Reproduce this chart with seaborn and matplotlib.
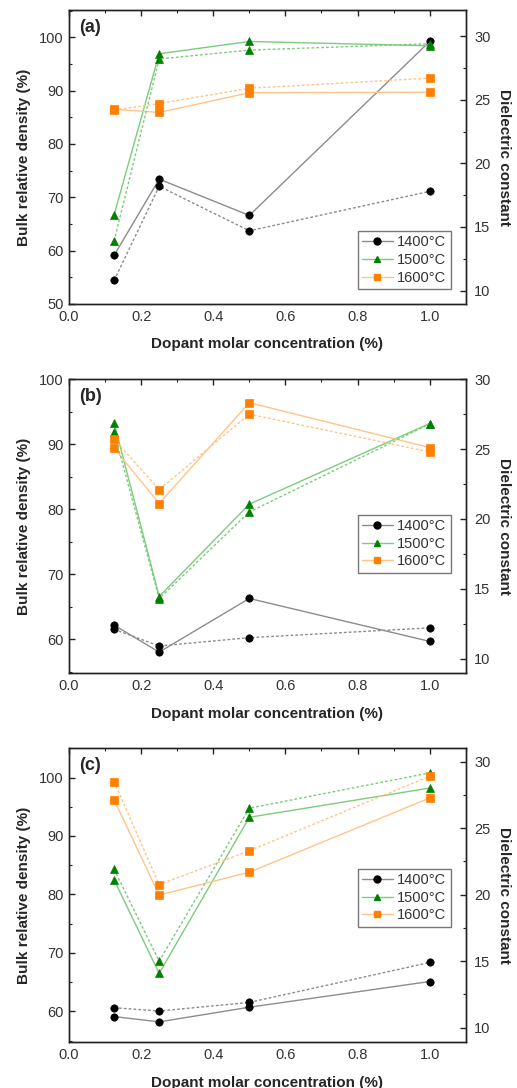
import numpy as np
import pandas as pd
import matplotlib
matplotlib.use("Agg")
import matplotlib.pyplot as plt
from matplotlib.ticker import MultipleLocator
from matplotlib.lines import Line2D
import seaborn as sns

sns.set_theme(style="white")
plt.rcParams["font.family"] = ["Liberation Sans", "DejaVu Sans"]

# Dopant molar concentration (%)
concentration = [0.125, 0.25, 0.5, 1.0]
temperatures = ["1400°C", "1500°C", "1600°C"]

# (a) bulk relative density (%) and dielectric constant
density_a_1400 = [59.1, 73.4, 66.6, 99.2]
density_a_1500 = [66.7, 96.9, 99.2, 98.4]
density_a_1600 = [86.5, 85.9, 89.6, 89.7]
dielectric_a_1400 = [10.8, 18.2, 14.7, 17.8]
dielectric_a_1500 = [13.9, 28.2, 28.9, 29.4]
dielectric_a_1600 = [24.2, 24.7, 25.9, 26.7]

# (b)
density_b_1400 = [62.2, 58.05, 66.3, 59.7]
density_b_1500 = [93.3, 66.6, 80.8, 93.2]
density_b_1600 = [89.4, 80.9, 96.4, 89.5]
dielectric_b_1400 = [12.1, 10.9, 11.5, 12.2]
dielectric_b_1500 = [26.2, 14.3, 20.5, 26.8]
dielectric_b_1600 = [25.7, 22.1, 27.5, 24.8]

# (c)
density_c_1400 = [59.1, 58.2, 60.7, 65.1]
density_c_1500 = [82.5, 66.5, 93.2, 98.2]
density_c_1600 = [96.2, 79.9, 83.8, 96.5]
dielectric_c_1400 = [11.5, 11.25, 11.9, 14.9]
dielectric_c_1500 = [21.9, 15.0, 26.5, 29.15]
dielectric_c_1600 = [28.5, 20.75, 23.3, 28.9]

panels = [
    ("(a)", [density_a_1400, density_a_1500, density_a_1600],
     [dielectric_a_1400, dielectric_a_1500, dielectric_a_1600]),
    ("(b)", [density_b_1400, density_b_1500, density_b_1600],
     [dielectric_b_1400, dielectric_b_1500, dielectric_b_1600]),
    ("(c)", [density_c_1400, density_c_1500, density_c_1600],
     [dielectric_c_1400, dielectric_c_1500, dielectric_c_1600]),
]

# per-panel layout: axes bottom (figure fraction), left/right y-limits, legend anchor
layout = [
    (0.7206, (50, 105.1), (8.95, 32.05), 0.051),
    (0.3812, (54.8, 100), (8.95, 30.0), 0.342),
    (0.0420, (54.7, 105.0), (8.9, 31.0), 0.393),
]

marker_colors = ["#000000", "#008000", "#ff8000"]
line_colors = ["#8c8c8c", "#7ccc7c", "#ffc48a"]
markers = ["o", "^", "s"]
tick_color = "#333333"

fig = plt.figure(figsize=(5.17, 10.88), dpi=100)

for (tag, dens, diel), (bottom, ylim_l, ylim_r, leg_y) in zip(panels, layout):
    ax = fig.add_axes([0.1335, bottom, 0.7673, 0.2702])
    ax2 = ax.twinx()

    for i, temp in enumerate(temperatures):
        d1 = pd.DataFrame({"x": concentration, "y": dens[i]})
        d2 = pd.DataFrame({"x": concentration, "y": diel[i]})
        sns.lineplot(data=d1, x="x", y="y", ax=ax, color=line_colors[i],
                     linewidth=1.0, marker=markers[i], markersize=5.3,
                     markerfacecolor=marker_colors[i],
                     markeredgecolor=marker_colors[i], markeredgewidth=0.5,
                     legend=False, zorder=3)
        sns.lineplot(data=d2, x="x", y="y", ax=ax2, color=line_colors[i],
                     linewidth=1.0, linestyle=(0, (2.0, 1.5)),
                     marker=markers[i], markersize=5.3,
                     markerfacecolor=marker_colors[i],
                     markeredgecolor=marker_colors[i], markeredgewidth=0.5,
                     legend=False, zorder=3)

    ax.set_xlim(0, 1.1)
    ax.set_ylim(*ylim_l)
    ax2.set_ylim(*ylim_r)

    ax.xaxis.set_major_locator(MultipleLocator(0.2))
    ax.xaxis.set_minor_locator(MultipleLocator(0.1))
    ax.yaxis.set_major_locator(MultipleLocator(10))
    ax.yaxis.set_minor_locator(MultipleLocator(5))
    ax2.yaxis.set_major_locator(MultipleLocator(5))
    ax2.yaxis.set_minor_locator(MultipleLocator(2.5))
    ax.xaxis.set_major_formatter(matplotlib.ticker.FormatStrFormatter("%.1f"))

    for a in (ax, ax2):
        for s in a.spines.values():
            s.set_color("#222222")
            s.set_linewidth(1.0)
    ax.tick_params(axis="both", which="both", direction="in", top=True,
                   colors="#222222", labelcolor=tick_color, labelsize=10.5)
    ax.tick_params(which="major", length=4, width=1.0, pad=4)
    ax.tick_params(which="minor", length=2.5, width=0.8)
    ax2.tick_params(axis="y", which="both", direction="in",
                    colors="#222222", labelcolor=tick_color, labelsize=10.5)
    ax2.tick_params(which="major", length=4, width=1.0, pad=6)
    ax2.tick_params(which="minor", length=2.5, width=0.8)

    ax.set_xlabel("Dopant molar concentration (%)", fontsize=11,
                  fontweight="bold", labelpad=10)
    ax.set_ylabel("Bulk relative density (%)", fontsize=11,
                  fontweight="bold", labelpad=6)
    ax2.set_ylabel("Dielectric constant", fontsize=11, fontweight="bold",
                   rotation=270, labelpad=15)

    ax.text(0.025, 0.94, tag, transform=ax.transAxes, fontsize=13,
            fontweight="bold", ha="left", va="center")

    handles = [Line2D([], [], color=line_colors[i], linewidth=1.0,
                      marker=markers[i], markersize=5,
                      markerfacecolor=marker_colors[i],
                      markeredgecolor=marker_colors[i])
               for i in range(3)]
    leg = ax2.legend(handles, temperatures, loc="lower right",
                     bbox_to_anchor=(0.962, leg_y), frameon=True,
                     fancybox=False, framealpha=1, edgecolor="#777777",
                     fontsize=10.5, handlelength=2.1, handletextpad=0.3,
                     labelspacing=0.25, borderpad=0.3, borderaxespad=0)
    leg.get_frame().set_linewidth(1.0)
    for t in leg.get_texts():
        t.set_color(tick_color)

fig.savefig("out.png", dpi=100)
